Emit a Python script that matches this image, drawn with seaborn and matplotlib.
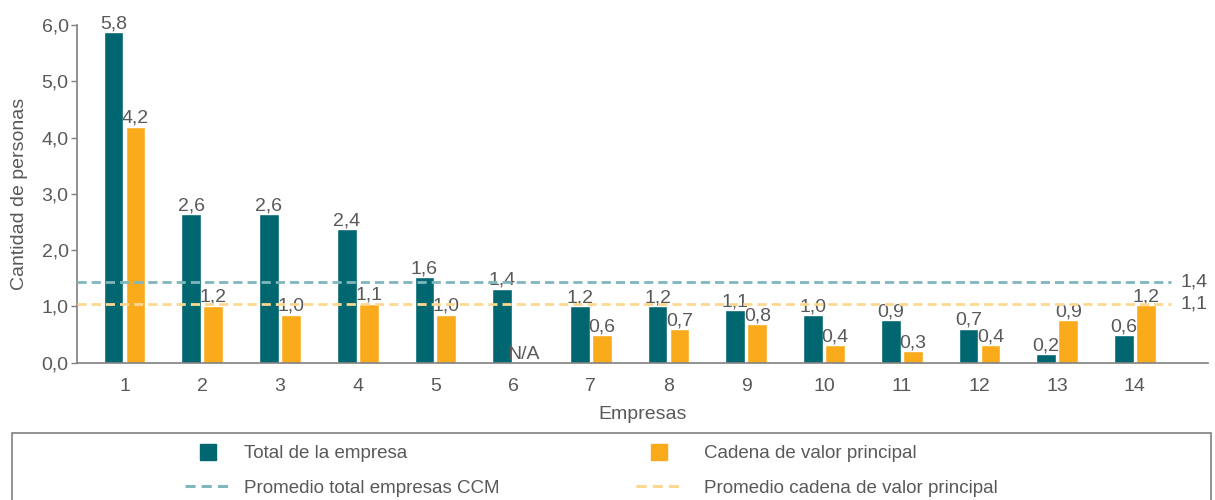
import numpy as np
import pandas as pd
import matplotlib
matplotlib.use("Agg")
import matplotlib.pyplot as plt
from matplotlib.lines import Line2D
from matplotlib.patches import Rectangle
from matplotlib.ticker import FuncFormatter
import seaborn as sns

# Data
empresas = [str(i) for i in range(1, 15)]
total_empresa = [5.87, 2.64, 2.64, 2.37, 1.52, 1.31, 1.00, 1.00, 0.93, 0.84, 0.75, 0.60, 0.15, 0.49]
cadena_valor = [4.19, 1.01, 0.85, 1.05, 0.85, np.nan, 0.49, 0.59, 0.68, 0.31, 0.20, 0.31, 0.75, 1.02]
total_labels = ['5,8', '2,6', '2,6', '2,4', '1,6', '1,4', '1,2', '1,2', '1,1', '1,0', '0,9', '0,7', '0,2', '0,6']
cadena_labels = ['4,2', '1,2', '1,0', '1,1', '1,0', 'N/A', '0,6', '0,7', '0,8', '0,4', '0,3', '0,4', '0,9', '1,2']
promedio_total = 1.43
promedio_cadena = 1.04
promedio_labels = ['1,4', '1,1']
series = ['Total de la empresa', 'Cadena de valor principal']

TEAL = '#006770'
ORANGE = '#F9AB1B'
TEAL_LIGHT = '#80B7BC'
ORANGE_LIGHT = '#FDD891'
TXT = '#595959'
GREY = '#808080'

sns.set_theme(style='white')
plt.rcParams['font.family'] = ['Liberation Sans', 'DejaVu Sans']
plt.rcParams['text.color'] = TXT

df = pd.DataFrame({
    'empresa': empresas * 2,
    'serie': [series[0]] * 14 + [series[1]] * 14,
    'valor': total_empresa + cadena_valor,
})
df['valor'] = df['valor'].fillna(0)

fig = plt.figure(figsize=(12.15, 5.0), dpi=100)
ax = fig.add_axes([77 / 1215, 1 - 362.7 / 500, (1208 - 77) / 1215, (362.7 - 25) / 500])

sns.barplot(data=df, x='empresa', y='valor', hue='serie', palette=[TEAL, ORANGE],
            width=0.566, gap=0.1, saturation=1, errorbar=None, legend=False, ax=ax)

ax.bar_label(ax.containers[0], labels=total_labels, padding=0, fontsize=14, color=TXT)
ax.bar_label(ax.containers[1], labels=cadena_labels, padding=0, fontsize=14, color=TXT)

xl = (-0.611, 13.94)
ax.set_xlim(xl)
ax.set_ylim(0, 6)
ax.hlines(promedio_total, xl[0], 13.47, colors=TEAL_LIGHT, linestyles=(0, (3.3, 1.8)), lw=2, zorder=3)
ax.hlines(promedio_cadena, xl[0], 13.47, colors=ORANGE_LIGHT, linestyles=(0, (3.3, 1.8)), lw=2, zorder=3)
ax.text(13.58, promedio_total, promedio_labels[0], va='center', ha='left', fontsize=14, color=TXT)
ax.text(13.58, promedio_cadena, promedio_labels[1], va='center', ha='left', fontsize=14, color=TXT)

ax.set_yticks(np.arange(0, 7, 1))
ax.yaxis.set_major_formatter(FuncFormatter(lambda v, p: f'{v:.1f}'.replace('.', ',')))
ax.tick_params(axis='y', left=True, length=4, width=1, color=GREY, labelsize=14, labelcolor=TXT, pad=2)
ax.tick_params(axis='x', bottom=False, length=0, labelsize=14, labelcolor=TXT, pad=11)
for s in ['top', 'right']:
    ax.spines[s].set_visible(False)
for s in ['left', 'bottom']:
    ax.spines[s].set_color(GREY)
    ax.spines[s].set_linewidth(1.2)

ax.set_xlabel('Empresas', fontsize=14, color=TXT, labelpad=8)
ax.set_ylabel('Cantidad de personas', fontsize=14, color=TXT, labelpad=10)

# legend box, cut by the bottom of the image as in the original
fig.add_artist(Rectangle((12 / 1215, -0.05), (1211 - 12) / 1215, (500 - 432.7) / 500 + 0.05,
                         transform=fig.transFigure, fill=False, edgecolor=GREY, lw=1.2))


def square(c):
    return Line2D([], [], ls='none', marker='s', markersize=11.5, color=c)


def dashed(c):
    return Line2D([], [], color=c, ls=(0, (3.3, 2)), lw=2.2)


leg_kw = dict(loc='center left', frameon=False, fontsize=13.5, handlelength=2.4,
              borderpad=0, borderaxespad=0, labelspacing=0.95, labelcolor=TXT)
leg1 = fig.legend([square(TEAL), dashed(TEAL_LIGHT)],
                  [series[0], 'Promedio total empresas CCM'],
                  bbox_to_anchor=(185 / 1215, 1 - 471 / 500), handletextpad=0.75, **leg_kw)
leg2 = fig.legend([square(ORANGE), dashed(ORANGE_LIGHT)],
                  [series[1], 'Promedio cadena de valor principal'],
                  bbox_to_anchor=(636 / 1215, 1 - 471 / 500), handletextpad=1.2, **leg_kw)

fig.savefig('out.png', dpi=100)
